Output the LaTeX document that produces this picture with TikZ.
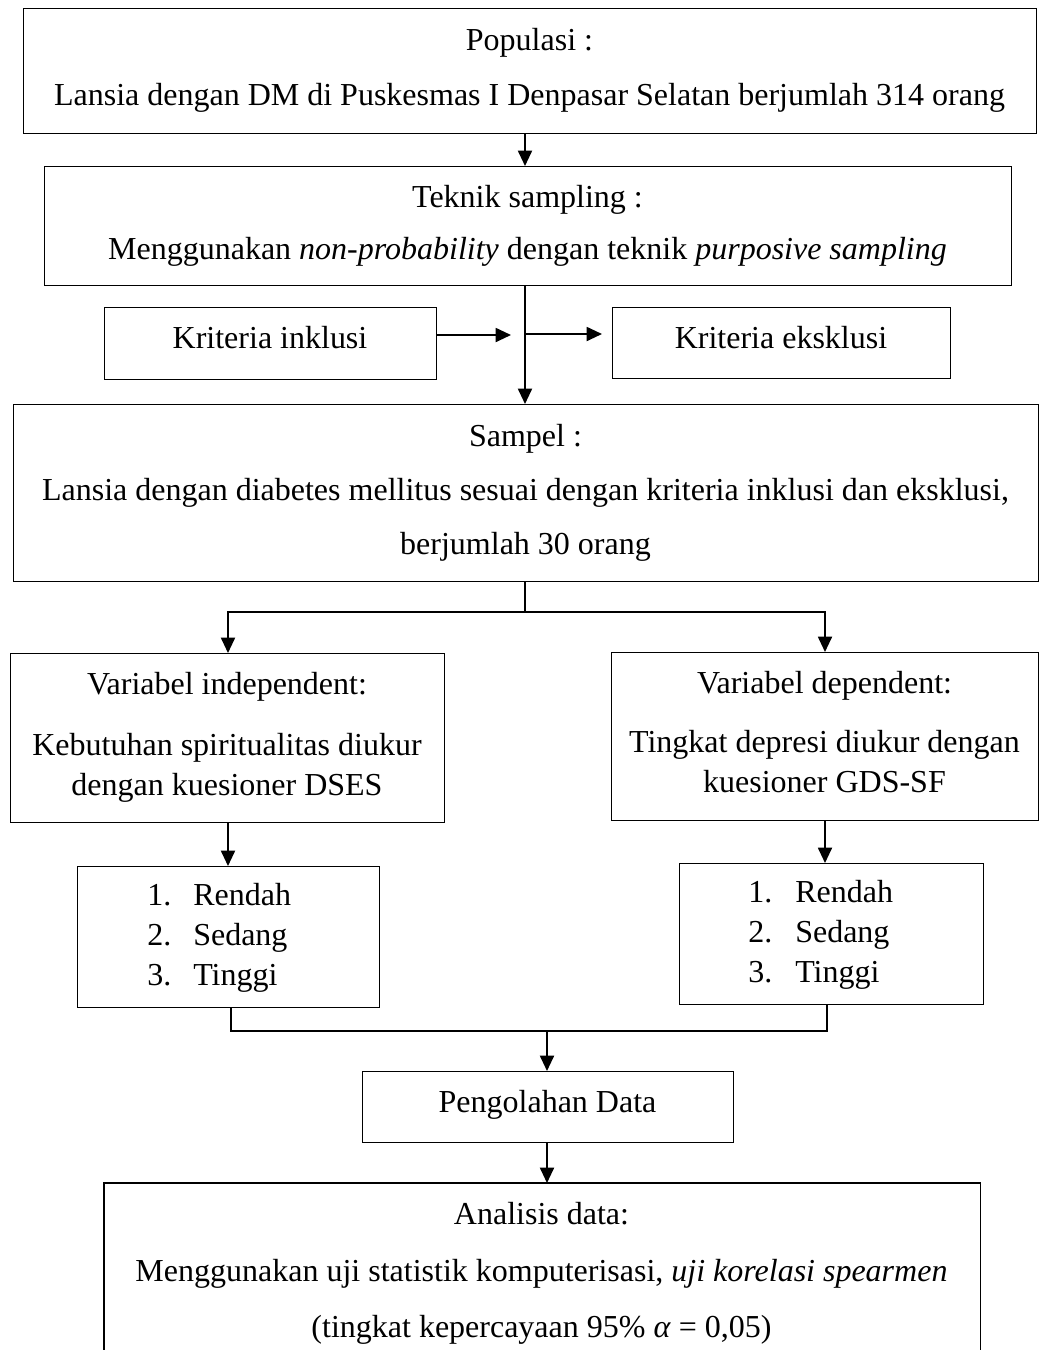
\documentclass[tikz,border=0pt]{standalone}
\usepackage{fontspec}
\setmainfont{Liberation Serif}
\usetikzlibrary{arrows.meta}
\begin{document}
\begin{tikzpicture}[x=0.75pt,y=-0.75pt,
  box/.style={draw, line width=1.1pt, inner sep=0pt, anchor=north west},
  txt/.style={inner sep=0pt, anchor=base, font=\fontsize{24pt}{29pt}\selectfont},
  txl/.style={txt, anchor=base west},
  ln/.style={line width=1.4pt},
  arr/.style={ln, -{Triangle[length=11.5pt,width=10.5pt]}}]
\useasboundingbox (0,0) rectangle (1039,1350);

% named helper coordinates
\coordinate (spine) at (525,0);
\coordinate (lcol) at (228,0);
\coordinate (rcol) at (825,0);
\coordinate (lcolb) at (231,0);
\coordinate (rcolb) at (827,0);
\coordinate (j1) at (511,335);
\coordinate (j2) at (526,334);
\coordinate (j3) at (602,334);
\coordinate (split) at (525,612);
\coordinate (join) at (547,1031);

% boxes
\node[box, minimum width=759.75pt, minimum height=93.75pt] (pop) at (23,8) {};
\node[box, minimum width=725.25pt, minimum height=89.25pt] (tek) at (44,166) {};
\node[box, minimum width=249pt, minimum height=54pt] (inc) at (104,307) {};
\node[box, minimum width=253.5pt, minimum height=53.25pt] (exc) at (612,307) {};
\node[box, minimum width=768.75pt, minimum height=132.75pt] (sam) at (13,404) {};
\node[box, minimum width=325.5pt, minimum height=126.75pt] (ind) at (10,653) {};
\node[box, minimum width=320.25pt, minimum height=126pt] (dep) at (611,652) {};
\node[box, minimum width=226.5pt, minimum height=105.75pt] (lsta) at (77,866) {};
\node[box, minimum width=228pt, minimum height=105.75pt] (lstb) at (679,863) {};
\node[box, minimum width=278.25pt, minimum height=53.25pt] (peng) at (362,1071) {};
\node[box, draw=none, minimum width=656.25pt, minimum height=125.25pt] (ana) at (104,1183) {};
\draw[line width=1.1pt] (ana.south west) -- (ana.north west) -- (ana.north east) -- (ana.south east);

% texts
\node[txt] (t1) at (529.5,50) {Populasi :};
\node[txt] (t2) at (529.5,105) {Lansia dengan DM di Puskesmas I Denpasar Selatan berjumlah 314 orang};
\node[txt] (t3) at (527.5,207) {Teknik sampling :};
\node[txt] (t4) at (527.5,259) {Menggunakan \textit{non-probability} dengan teknik \textit{purposive sampling}};
\node[txt] (t5) at (270,348) {Kriteria inklusi};
\node[txt] (t6) at (781,348) {Kriteria eksklusi};
\node[txt] (t7) at (525.5,446) {Sampel :};
\node[txt] (t8) at (525.5,500) {Lansia dengan diabetes mellitus sesuai dengan kriteria inklusi dan eksklusi,};
\node[txt] (t9) at (525.5,554) {berjumlah 30 orang};
\node[txt] (t10) at (227,694) {Variabel independent:};
\node[txt] (t11) at (227,755) {Kebutuhan spiritualitas diukur};
\node[txt] (t12) at (227,795) {dengan kuesioner DSES};
\node[txt] (t13) at (824.5,693) {Variabel dependent:};
\node[txt] (t14) at (824.5,752) {Tingkat depresi diukur dengan};
\node[txt] (t15) at (824.5,792) {kuesioner GDS-SF};
\node[txl] (a1) at (147,905) {1.};
\node[txl] (a2) at (193,905) {Rendah};
\node[txl] (a3) at (147,945) {2.};
\node[txl] (a4) at (193,945) {Sedang};
\node[txl] (a5) at (147,985) {3.};
\node[txl] (a6) at (193,985) {Tinggi};
\node[txl] (b1) at (748,902) {1.};
\node[txl] (b2) at (795,902) {Rendah};
\node[txl] (b3) at (748,942) {2.};
\node[txl] (b4) at (795,942) {Sedang};
\node[txl] (b5) at (748,982) {3.};
\node[txl] (b6) at (795,982) {Tinggi};
\node[txt] (t16) at (547.5,1112) {Pengolahan Data};
\node[txt] (t17) at (541.5,1224) {Analisis data:};
\node[txt] (t18) at (541.5,1281) {Menggunakan uji statistik komputerisasi, \textit{uji korelasi spearmen}};
\node[txt] (t19) at (541.5,1337) {(tingkat kepercayaan 95\% \textit{α}~=~0,05)};

% connectors
\draw[arr] (pop.south -| spine) -- (tek.north -| spine);
\draw[arr] (tek.south -| spine) -- (sam.north -| spine);
\draw[arr] (inc.east |- j1) -- (j1);
\draw[arr] (j2) -- (j3);
\draw[ln] (sam.south -| spine) -- (split);
\draw[arr] (split) -| (ind.north -| lcol);
\draw[arr] (split) -| (dep.north -| rcol);
\draw[arr] (ind.south -| lcol) -- (lsta.north -| lcol);
\draw[arr] (dep.south -| rcol) -- (lstb.north -| rcol);
\draw[ln] (lsta.south -| lcolb) -- (lcolb |- join) -- (rcolb |- join) -- (lstb.south -| rcolb);
\draw[arr] (join) -- (peng.north -| join);
\draw[arr] (peng.south -| join) -- (ana.north -| join);
\end{tikzpicture}
\end{document}
